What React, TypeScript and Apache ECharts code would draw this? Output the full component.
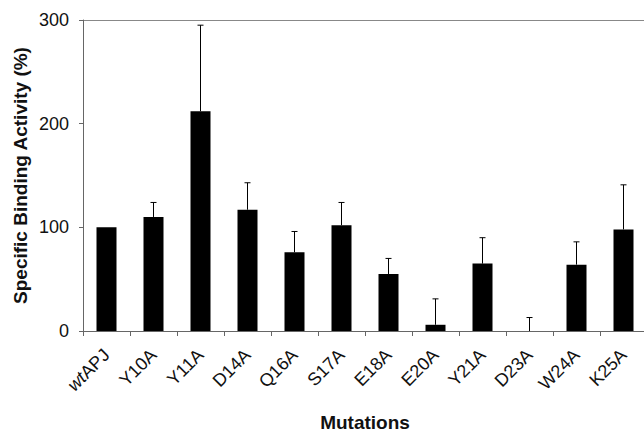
import React, { useEffect, useRef } from "react";
import * as echarts from "echarts";

const categories = ["wtAPJ", "Y10A", "Y11A", "D14A", "Q16A", "S17A", "E18A", "E20A", "Y21A", "D23A", "W24A", "K25A"];
const bindingValues = [100, 110, 212, 117, 76, 102, 55, 6, 65, 0, 64, 98];
const errorTops = [100, 124, 295, 143, 96, 124, 70, 31, 90, 13, 86, 141];
const yTicks = [0, 100, 200, 300];

export default function App() {
  const ref = useRef<HTMLDivElement>(null);
  useEffect(() => {
    if (!ref.current) return;
    const chart = echarts.init(ref.current, undefined, { renderer: "svg" });
    const font = "Arial, 'Liberation Sans', sans-serif";
    chart.setOption({
      animation: false,
      grid: { left: 83, top: 20, width: 564, height: 311, containLabel: false, outerBoundsMode: "none" },
      xAxis: {
        type: "category",
        data: categories,
        axisLine: { lineStyle: { color: "#666", width: 1 } },
        axisTick: { show: true, length: 5, lineStyle: { color: "#666" } },
        axisLabel: {
          rotate: 45,
          interval: 0,
          margin: 21,
          color: "#111",
          fontSize: 18,
          fontFamily: font,
          formatter: (v: string) => (v === "wtAPJ" ? "{i|wt}APJ" : v),
          rich: { i: { fontStyle: "italic", fontSize: 18, fontFamily: font, color: "#111" } },
        },
        name: "Mutations",
        nameLocation: "middle",
        nameGap: 82,
        nameMoveOverlap: false,
        nameTextStyle: { fontSize: 19, fontWeight: "bold", color: "#111", fontFamily: font },
      },
      yAxis: {
        type: "value",
        min: 0,
        max: 300,
        interval: 100,
        axisLine: { show: true, lineStyle: { color: "#666", width: 1 } },
        axisTick: { show: true, length: 4, lineStyle: { color: "#666" } },
        axisLabel: {
          color: "#111",
          fontSize: 18,
          fontFamily: font,
          margin: 14,
          formatter: (v: number) => (yTicks.includes(v) ? String(v) : ""),
        },
        splitLine: { show: true, lineStyle: { color: ["transparent", "transparent", "transparent", "#888"], width: 1 } },
        name: "Specific Binding Activity (%)",
        nameLocation: "middle",
        nameGap: 53,
        nameMoveOverlap: false,
        nameTextStyle: { fontSize: 19, fontWeight: "bold", color: "#111", fontFamily: font },
      },
      series: [
        {
          type: "bar",
          data: bindingValues,
          barWidth: 20,
          itemStyle: { color: "#000" },
        },
        {
          type: "custom",
          data: categories.map((_, i) => [i, bindingValues[i], errorTops[i]]),
          z: 5,
          renderItem: (params: any, api: any) => {
            const i = api.value(0);
            if (api.value(2) <= api.value(1)) return null;
            const base = api.coord([i, api.value(1)]);
            const top = api.coord([i, api.value(2)]);
            const style = { stroke: "#000", lineWidth: 1 };
            return {
              type: "group",
              children: [
                { type: "line", shape: { x1: base[0], y1: base[1], x2: top[0], y2: top[1] }, style },
                { type: "line", shape: { x1: top[0] - 3, y1: top[1], x2: top[0] + 3, y2: top[1] }, style },
              ],
            };
          },
        },
      ],
    });
    return () => chart.dispose();
  }, []);
  return <div ref={ref} style={{ width: 644, height: 432, position: "absolute", left: 0, top: 0 }} />;
}
